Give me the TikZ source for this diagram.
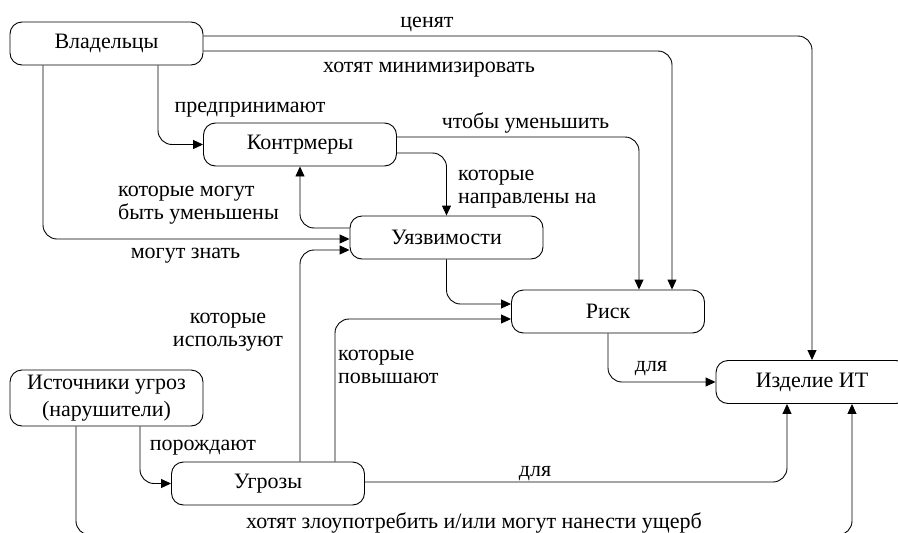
\documentclass[tikz,border=0pt]{standalone}
\usepackage{fontspec}
\setmainfont{Liberation Serif}
\newfontfamily\diagfont{Liberation Serif}
\usetikzlibrary{arrows.meta}
\newcommand{\twoleft}[1]{\begin{tabular}[t]{@{}l@{}}#1\end{tabular}}
\newcommand{\twocent}[1]{\begin{tabular}[t]{@{}c@{}}#1\end{tabular}}
\begin{document}
\begin{tikzpicture}[x=1pt,y=-1pt,
  every node/.style={font=\diagfont\fontsize{22}{23}\selectfont},
  box/.style={draw, line width=0.9pt, rounded corners=12pt, minimum width=193pt,
    minimum height=43pt, inner sep=0pt, align=center},
  arr/.style={draw, line width=0.9pt, rounded corners=14pt,
    -{Triangle[length=10pt,width=9pt]}},
  lbl/.style={inner sep=0pt, anchor=base}]
\useasboundingbox (0,0) rectangle (898,533);
\clip (0,0) rectangle (898,533);

\node[box] (own) at (106.5,43.5) {Владельцы};
\node[box] (cm) at (300,144.5) {Контрмеры};
\node[box] (vul) at (446.5,237.5) {Уязвимости};
\node[box] (risk) at (608,311.5) {Риск};
\node[box, minimum width=192pt] (it) at (812,382) {Изделие ИТ};
\node[box, minimum height=56pt, font=\diagfont\fontsize{22}{27}\selectfont] (src) at (106.5,398) {Источники угроз\\(нарушители)};
\node[box] (thr) at (268,483.5) {Угрозы};

\draw[arr] ([yshift=7.5pt]own.east) -| (it.north);
\draw[arr] ([yshift=-7.5pt]own.east) -| ([xshift=64pt]risk.north);
\draw[arr] ([xshift=51.5pt]own.south) |- (cm.west);
\draw[arr] ([xshift=-63.5pt]own.south) |- ([yshift=-1.5pt]vul.west);
\draw[arr] ([yshift=7.5pt]cm.east) -| ([xshift=31pt]risk.north);
\draw[arr] ([yshift=-8.5pt]cm.east) -| (vul.north);
\draw[arr] ([yshift=9.5pt]vul.west) -| (cm.south);
\draw[arr] ([xshift=32pt]thr.north) |- ([yshift=-12.5pt]vul.west);
\draw[arr] ([xshift=67pt]thr.north) |- ([yshift=-7.5pt]risk.west);
\draw[arr] (vul.south) |- ([yshift=7.5pt]risk.west);
\draw[arr] (risk.south) |- (it.west);
\draw[arr] ([yshift=1.5pt]thr.east) -| ([xshift=-25pt]it.south);
\draw[arr] ([xshift=33.5pt]src.south) |- (thr.west);
\coordinate (bot) at (0,535);
\coordinate (s1) at ([xshift=-30.5pt]src.south);
\coordinate (i2) at ([xshift=40pt]it.south);
\draw[arr] (s1) -- (s1 |- bot) -| (i2);

\node[lbl] (l1) at (427,27) {ценят};
\node[lbl] (l2) at (429,72) {хотят минимизировать};
\node[lbl] (l3) at (250,112) {предпринимают};
\node[lbl] (l4) at (525.5,128) {чтобы уменьшить};
\node[lbl, anchor=base west] (l5) at (458,180) {\twoleft{которые\\направлены на}};
\node[lbl, anchor=base west] (l6) at (118,196) {\twoleft{которые могут\\быть уменьшены}};
\node[lbl] (l7) at (185.5,258) {могут знать};
\node[lbl] (l8) at (228,323) {\twocent{которые\\используют}};
\node[lbl, anchor=base west] (l9) at (338,360) {\twoleft{которые\\повышают}};
\node[lbl] (l10) at (203,450) {порождают};
\node[lbl] (l11) at (651,371) {для};
\node[lbl] (l12) at (535,476) {для};
\node[lbl] (l13) at (474,528) {хотят злоупотребить и/или могут нанести ущерб};
\end{tikzpicture}
\end{document}
